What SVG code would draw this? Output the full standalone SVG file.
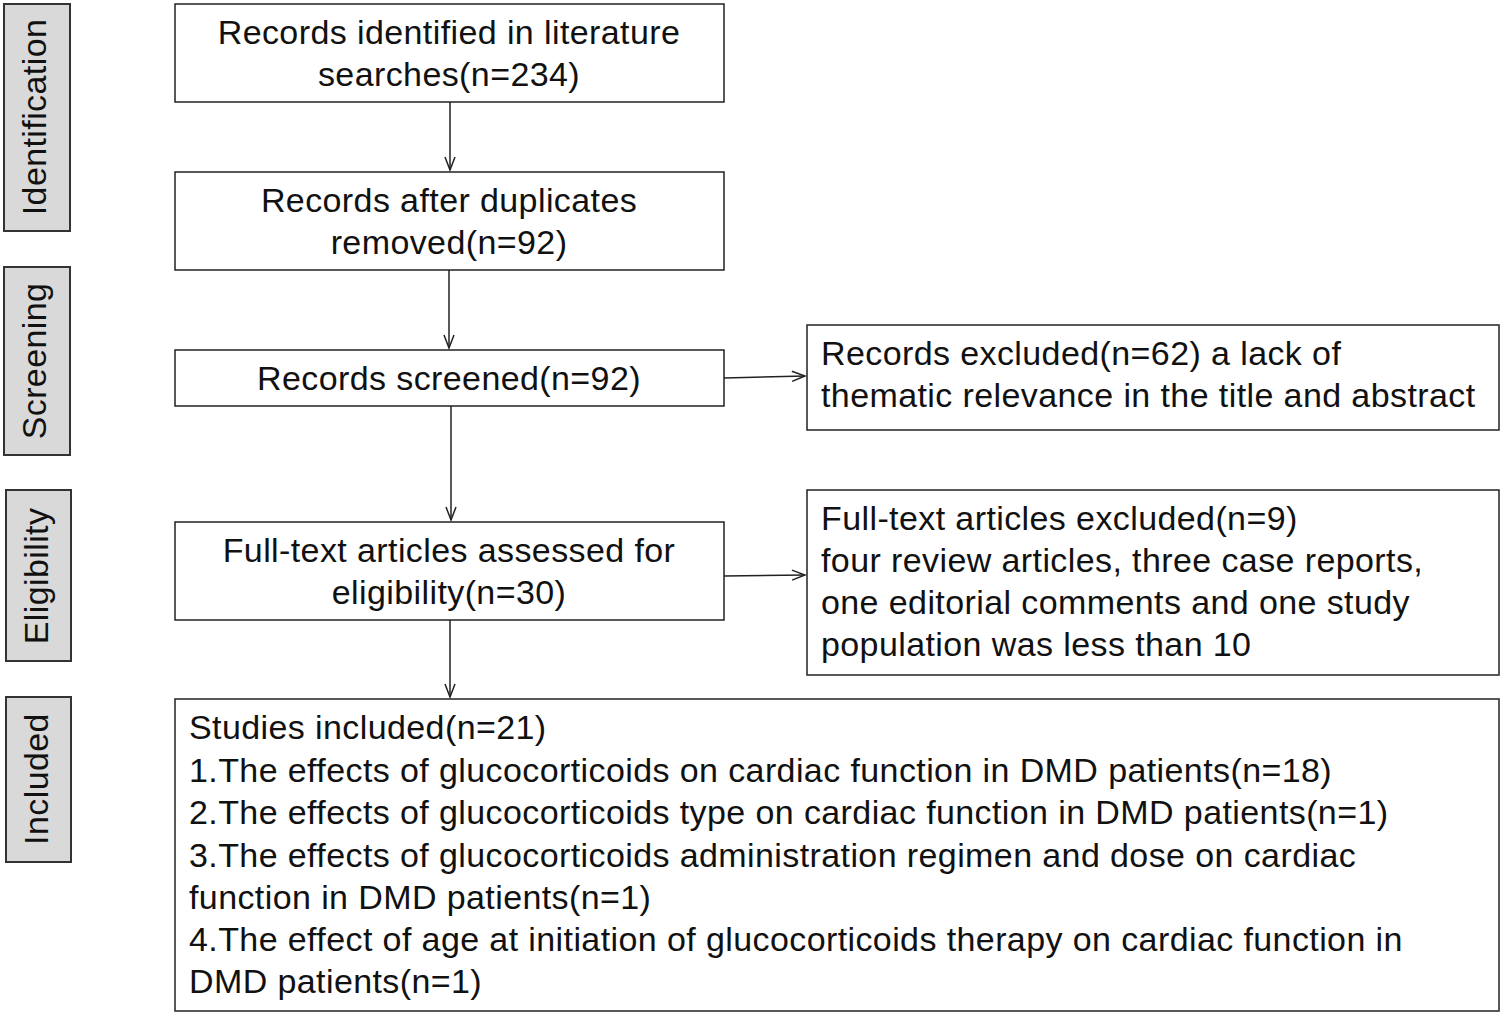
<svg xmlns="http://www.w3.org/2000/svg" width="1502" height="1015" viewBox="0 0 1502 1015">
<style>
.b{fill:#fff;stroke:#222;stroke-width:1.5}
.s{fill:#d9d9d9;stroke:#333;stroke-width:2}
text{font-family:"Liberation Sans",Arial,sans-serif;font-size:34px;letter-spacing:0.4px;fill:#111}
.c{text-anchor:middle}
.l{stroke:#222;stroke-width:1.5;fill:none;marker-end:url(#a)}
</style>
<defs><marker id="a" markerWidth="16" markerHeight="12" refX="14" refY="6" orient="auto" markerUnits="userSpaceOnUse"><path d="M1,1 L14,6 L1,11" fill="none" stroke="#222" stroke-width="1.5"/></marker></defs>
<g id="stage-identification"><rect class="s" x="4" y="4" width="66" height="227"/><text class="c" transform="translate(46,117) rotate(-90)">Identification</text></g>
<g id="stage-screening"><rect class="s" x="4" y="267" width="66" height="188"/><text class="c" transform="translate(46,361) rotate(-90)">Screening</text></g>
<g id="stage-eligibility"><rect class="s" x="6" y="490" width="65" height="171"/><text class="c" transform="translate(48,576) rotate(-90)">Eligibility</text></g>
<g id="stage-included"><rect class="s" x="6" y="697" width="65" height="165"/><text class="c" transform="translate(48,779) rotate(-90)">Included</text></g>
<g id="n1"><rect class="b" x="175" y="4" width="549" height="98"/><text class="c" x="449" y="44">Records identified in literature</text><text class="c" x="449" y="86">searches(n=234)</text></g>
<g id="n2"><rect class="b" x="175" y="172" width="549" height="98"/><text class="c" x="449" y="212">Records after duplicates</text><text class="c" x="449" y="254">removed(n=92)</text></g>
<g id="n3"><rect class="b" x="175" y="350" width="549" height="56"/><text class="c" x="449" y="390">Records screened(n=92)</text></g>
<g id="n4"><rect class="b" x="175" y="522" width="549" height="98"/><text class="c" x="449" y="562">Full-text articles assessed for</text><text class="c" x="449" y="604">eligibility(n=30)</text></g>
<g id="x1"><rect class="b" x="807" y="325" width="692" height="105"/><text x="821" y="365">Records excluded(n=62) a lack of</text><text x="821" y="407">thematic relevance in the title and abstract</text></g>
<g id="x2"><rect class="b" x="807" y="490" width="692" height="185"/><text x="821" y="530">Full-text articles excluded(n=9)</text><text x="821" y="572">four review articles, three case reports,</text><text x="821" y="614">one editorial comments and one study</text><text x="821" y="656">population was less than 10</text></g>
<g id="n5"><rect class="b" x="175" y="699" width="1324" height="312"/><text x="189" y="739">Studies included(n=21)</text><text x="189" y="782">1.The effects of glucocorticoids on cardiac function in DMD patients(n=18)</text><text x="189" y="824">2.The effects of glucocorticoids type on cardiac function in DMD patients(n=1)</text><text x="189" y="867">3.The effects of glucocorticoids administration regimen and dose on cardiac</text><text x="189" y="909">function in DMD patients(n=1)</text><text x="189" y="951">4.The effect of age at initiation of glucocorticoids therapy on cardiac function in</text><text x="189" y="993">DMD patients(n=1)</text></g>
<g id="connectors">
<path class="l" d="M450,102 V170"/>
<path class="l" d="M449,270 V348"/>
<path class="l" d="M451,406 V520"/>
<path class="l" d="M450,620 V697"/>
<path class="l" d="M724,378 L805,376"/>
<path class="l" d="M724,576 L805,575"/>
</g>
</svg>
